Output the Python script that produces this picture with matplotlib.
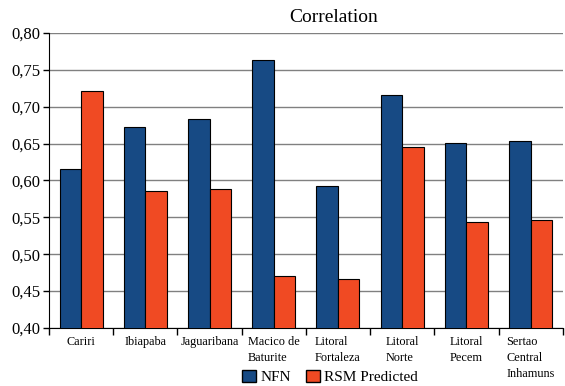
import numpy as np
import matplotlib.pyplot as plt
from matplotlib.patches import Patch

regions = ["Cariri", "Ibiapaba", "Jaguaribana", "Macico de\nBaturite",
           "Litoral\nFortaleza", "Litoral\nNorte", "Litoral\nPecem",
           "Sertao\nCentral\nInhamuns"]
nfn = [0.615, 0.672, 0.683, 0.764, 0.592, 0.716, 0.651, 0.654]
rsm = [0.721, 0.586, 0.589, 0.470, 0.467, 0.645, 0.544, 0.547]
yticks = [0.40, 0.45, 0.50, 0.55, 0.60, 0.65, 0.70, 0.75, 0.80]

NAVY = "#174a84"
ORANGE = "#f04a23"

plt.rcParams["font.family"] = ["Liberation Serif", "DejaVu Serif"]

fig = plt.figure(figsize=(5.65, 3.86), dpi=100)
ax = fig.add_axes([0.0867, 0.1503, 0.9093, 0.7642])

x = np.arange(len(regions))
w = 0.335
ax.bar(x - w / 2, nfn, w, color=NAVY, edgecolor="black", linewidth=0.8, zorder=3)
ax.bar(x + w / 2, rsm, w, color=ORANGE, edgecolor="black", linewidth=0.8, zorder=3)

ax.set_xlim(-0.5, len(regions) - 0.5)
ax.set_ylim(0.40, 0.80)
ax.set_yticks(yticks)
ax.yaxis.set_major_formatter(plt.FuncFormatter(lambda v, p: ("%.2f" % v).replace(".", ",")))
ax.tick_params(axis="y", length=4, width=1, color="black", pad=2, labelsize=12)
ax.grid(axis="y", color="#808080", linewidth=1.0, zorder=0)

# category boundaries as ticks, labels at centers
ax.set_xticks(np.arange(len(regions) + 1) - 0.5)
ax.set_xticklabels([])
ax.tick_params(axis="x", length=5, width=1, color="black")
for i, name in enumerate(regions):
    ax.text(i, 0.389, name, ha="center", va="top", multialignment="left",
            fontsize=8.8, linespacing=1.45)

for s in ["top", "right"]:
    ax.spines[s].set_visible(False)
ax.spines["left"].set_color("black")
ax.spines["bottom"].set_color("black")

fig.text(0.591, 0.955, "Correlation", ha="center", va="center", fontsize=14)

handles = [Patch(facecolor=NAVY, edgecolor="black"),
           Patch(facecolor=ORANGE, edgecolor="black")]
fig.legend(handles, ["NFN", "RSM Predicted"], loc="center", bbox_to_anchor=(0.584, 0.023),
           ncol=2, frameon=False, fontsize=11, handlelength=0.9, handleheight=0.9,
           handletextpad=0.3, columnspacing=1.0, borderpad=0)

plt.savefig("out.png", dpi=100)
